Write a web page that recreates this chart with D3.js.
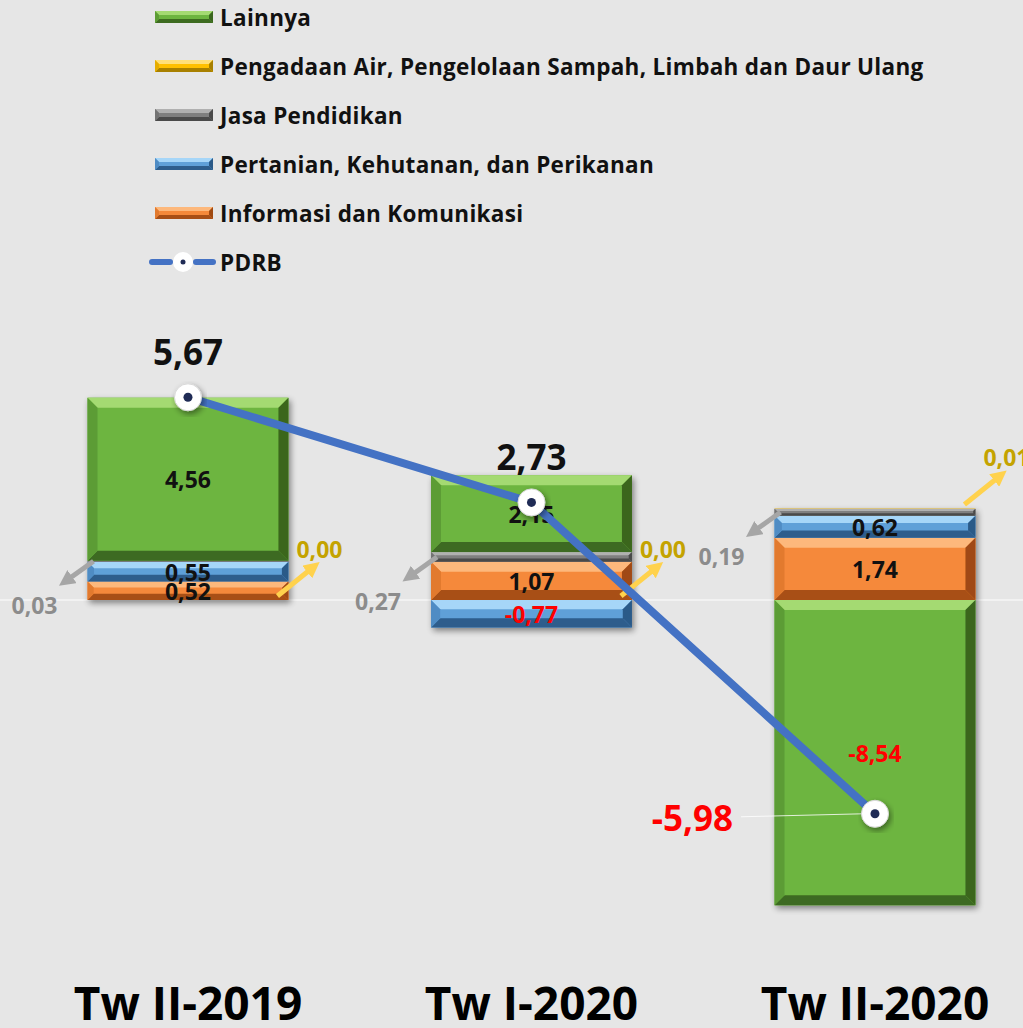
<!DOCTYPE html>
<html><head><meta charset="utf-8">
<script src="https://cdn.jsdelivr.net/npm/d3@7"></script>
<style>
html,body{margin:0;padding:0;background:#e6e6e6;}
svg{display:block;font-family:"Open Sans",sans-serif;}
</style></head>
<body>
<svg id="chart" width="1023" height="1028"></svg>
<script>
const categories = ["Tw II-2019", "Tw I-2020", "Tw II-2020"];
const informasi = [0.52, 1.07, 1.74];
const pertanian = [0.55, -0.77, 0.62];
const jasa = [0.03, 0.27, 0.19];
const pengadaan = [0.00, 0.00, 0.01];
const lainnya = [4.56, 2.15, -8.54];
const pdrb = [5.67, 2.73, -5.98];
const seriesNames = ["Informasi dan Komunikasi", "Pertanian, Kehutanan, dan Perikanan", "Jasa Pendidikan", "Pengadaan Air, Pengelolaan Sampah, Limbah dan Daur Ulang", "Lainnya"];
const legendOrder = ["Lainnya", "Pengadaan Air, Pengelolaan Sampah, Limbah dan Daur Ulang", "Jasa Pendidikan", "Pertanian, Kehutanan, dan Perikanan", "Informasi dan Komunikasi", "PDRB"];

const fmt = v => d3.format(".2f")(v).replace(".", ",").replace("\u2212", "-");

const palette = {
  "Informasi dan Komunikasi": {mid:"#f5893a", top:"#fdb87c", bot:"#a84f16", left:"#e27a2e", right:"#a04a12"},
  "Pertanian, Kehutanan, dan Perikanan": {mid:"#5fa0d8", top:"#a6d6f8", bot:"#2d5d8c", left:"#4f8cc4", right:"#2b5a88"},
  "Jasa Pendidikan": {mid:"#7f7f7f", top:"#b0b0b0", bot:"#4a4a4a", left:"#737373", right:"#4a4a4a"},
  "Pengadaan Air, Pengelolaan Sampah, Limbah dan Daur Ulang": {mid:"#ffc000", top:"#ffe07a", bot:"#a88000", left:"#e6ad00", right:"#a88000"},
  "Lainnya": {mid:"#6db540", top:"#a4da72", bot:"#3d6b20", left:"#5c9c34", right:"#3a661e"}
};

const table = categories.map((c, i) => ({
  cat: c,
  "Informasi dan Komunikasi": informasi[i],
  "Pertanian, Kehutanan, dan Perikanan": pertanian[i],
  "Jasa Pendidikan": jasa[i],
  "Pengadaan Air, Pengelolaan Sampah, Limbah dan Daur Ulang": pengadaan[i],
  "Lainnya": lainnya[i]
}));

const svg = d3.select("#chart");
const defs = svg.append("defs");
const sh = defs.append("filter").attr("id","shadow").attr("x","-20%").attr("y","-20%").attr("width","140%").attr("height","140%");
sh.append("feGaussianBlur").attr("in","SourceAlpha").attr("stdDeviation",3);
sh.append("feOffset").attr("dx",2).attr("dy",3).attr("result","ob");
sh.append("feComponentTransfer").append("feFuncA").attr("type","linear").attr("slope",0.45);
const fm = sh.append("feMerge"); fm.append("feMergeNode"); fm.append("feMergeNode").attr("in","SourceGraphic");

const x = d3.scaleBand().domain(categories).range([-84.25, 1147.2]).paddingInner(0.415).paddingOuter(0.5);
const y = d3.scaleLinear().domain([-10, 8]).range([957.5, 314]);

const stack = d3.stack().keys(seriesNames).offset(d3.stackOffsetDiverging);
const stacked = stack(table);

function bevel(g, x0, y0, w, h, c, bmax) {
  const b = Math.max(0, Math.min(bmax, h / 3, w / 3));
  g.append("rect").attr("x", x0).attr("y", y0).attr("width", w).attr("height", h).attr("fill", c.mid);
  if (b <= 0.3) return;
  const P = pts => pts.map(p => p.join(",")).join(" ");
  g.append("polygon").attr("points", P([[x0,y0],[x0+w,y0],[x0+w-b,y0+b],[x0+b,y0+b]])).attr("fill", c.top);
  g.append("polygon").attr("points", P([[x0,y0+h],[x0+w,y0+h],[x0+w-b,y0+h-b],[x0+b,y0+h-b]])).attr("fill", c.bot);
  g.append("polygon").attr("points", P([[x0,y0],[x0+b,y0+b],[x0+b,y0+h-b],[x0,y0+h]])).attr("fill", c.left);
  g.append("polygon").attr("points", P([[x0+w,y0],[x0+w-b,y0+b],[x0+w-b,y0+h-b],[x0+w,y0+h]])).attr("fill", c.right);
}

// zero line
svg.append("line").attr("x1", 0).attr("x2", 1023).attr("y1", y(0)).attr("y2", y(0))
  .attr("stroke", "#ffffff").attr("stroke-width", 1.2).attr("opacity", 0.9);

// bars
const barsG = svg.append("g");
categories.forEach((cat, i) => {
  const g = barsG.append("g").attr("filter", "url(#shadow)");
  stacked.forEach(s => {
    const d = s[i];
    const y0 = y(Math.max(d[0], d[1])), y1 = y(Math.min(d[0], d[1]));
    const h = y1 - y0;
    if (h <= 0) return;
    bevel(g, x(cat), y0, x.bandwidth(), h, palette[s.key], 10);
  });
});

// segment labels inside
const inside = ["Informasi dan Komunikasi", "Pertanian, Kehutanan, dan Perikanan", "Lainnya"];
stacked.filter(s => inside.includes(s.key)).forEach(s => {
  categories.forEach((cat, i) => {
    const d = s[i];
    const v = table[i][s.key];
    svg.append("text").attr("x", x(cat) + x.bandwidth() / 2).attr("y", y((d[0] + d[1]) / 2))
      .attr("text-anchor", "middle").attr("dominant-baseline", "central")
      .attr("font-size", 23).attr("font-weight", 700)
      .attr("fill", v < 0 ? "#ff0000" : "#111111").text(fmt(v));
  });
});

// arrows for small series
function arrowHead(id, color) {
  defs.append("marker").attr("id", id).attr("viewBox", "0 0 10 10").attr("refX", 5).attr("refY", 5)
    .attr("markerWidth", 3.2).attr("markerHeight", 3.2).attr("orient", "auto")
    .append("path").attr("d", "M0,0 L10,5 L0,10 Z").attr("fill", color);
}
arrowHead("ahGray", "#a6a6a6");
arrowHead("ahYel", "#ffd24d");
const sJasa = stacked.find(s => s.key === "Jasa Pendidikan");
const sPeng = stacked.find(s => s.key === "Pengadaan Air, Pengelolaan Sampah, Limbah dan Daur Ulang");
categories.forEach((cat, i) => {
  const xl = x(cat), xr = x(cat) + x.bandwidth();
  const jy = y((sJasa[i][0] + sJasa[i][1]) / 2);
  svg.append("line").attr("x1", xl + 6).attr("y1", jy).attr("x2", xl - 22).attr("y2", jy + 20)
    .attr("stroke", "#a6a6a6").attr("stroke-width", 5).attr("marker-end", "url(#ahGray)");
  svg.append("text").attr("x", xl - 53).attr("y", jy + 44).attr("text-anchor", "middle").attr("dominant-baseline", "central")
    .attr("font-size", 23).attr("font-weight", 700).attr("fill", "#8c8c8c").text(fmt(jasa[i]));
  const py = y(sPeng[i][1]) - 4;
  svg.append("line").attr("x1", xr - 11).attr("y1", py).attr("x2", xr + 25).attr("y2", py - 29)
    .attr("stroke", "#ffd24d").attr("stroke-width", 5).attr("marker-end", "url(#ahYel)");
  svg.append("text").attr("x", xr + 8).attr("y", py - 47).attr("text-anchor", "start").attr("dominant-baseline", "central")
    .attr("font-size", 23).attr("font-weight", 700).attr("fill", "#c4a300").text(fmt(pengadaan[i]));
});

// PDRB line
const cx = c => x(c) + x.bandwidth() / 2;
const line = d3.line().x((d, i) => cx(categories[i])).y(d => y(d));
svg.append("path").datum(pdrb).attr("d", line).attr("fill", "none")
  .attr("stroke", "#4472c4").attr("stroke-width", 8).attr("stroke-linejoin", "round");

// leader for negative total
svg.append("line").attr("x1", cx(categories[2]) - 134).attr("y1", y(pdrb[2]) + 3)
  .attr("x2", cx(categories[2]) - 12).attr("y2", y(pdrb[2]))
  .attr("stroke", "#ffffff").attr("stroke-width", 1).attr("opacity", 0.8);

const mk = svg.append("g");
pdrb.forEach((v, i) => {
  const g = mk.append("g").attr("transform", `translate(${cx(categories[i])},${y(v)})`);
  g.append("circle").attr("r", 13.5).attr("fill", "#ffffff").attr("stroke", "#d8d8d8").attr("stroke-width", 1).attr("filter", "url(#shadow)");
  g.append("circle").attr("r", 4.5).attr("fill", "#1f2b55");
});

// PDRB labels
pdrb.forEach((v, i) => {
  const t = svg.append("text").attr("font-size", 35).attr("font-weight", 700).attr("dominant-baseline", "central")
    .attr("fill", v < 0 ? "#ff0000" : "#111111").text(fmt(v));
  if (v >= 0) t.attr("x", cx(categories[i])).attr("y", y(v) - 46).attr("text-anchor", "middle");
  else t.attr("x", cx(categories[i]) - 142).attr("y", y(v) + 4).attr("text-anchor", "end");
});

// category labels
categories.forEach(cat => {
  svg.append("text").attr("x", cx(cat)).attr("y", 1020).attr("text-anchor", "middle")
    .attr("font-size", 46).attr("font-weight", 700).attr("fill", "#000000").text(cat);
});

// legend
const lg = svg.append("g");
legendOrder.forEach((name, k) => {
  const ly = 17 + k * 49;
  const g = lg.append("g");
  if (name === "PDRB") {
    g.append("line").attr("x1", 152).attr("x2", 170).attr("y1", ly).attr("y2", ly).attr("stroke", "#4472c4").attr("stroke-width", 6).attr("stroke-linecap", "round");
    g.append("line").attr("x1", 196).attr("x2", 213).attr("y1", ly).attr("y2", ly).attr("stroke", "#4472c4").attr("stroke-width", 6).attr("stroke-linecap", "round");
    g.append("circle").attr("cx", 183).attr("cy", ly).attr("r", 10).attr("fill", "#ffffff");
    g.append("circle").attr("cx", 183).attr("cy", ly).attr("r", 2.5).attr("fill", "#1f2b55");
  } else {
    bevel(g, 155, ly - 6, 58, 12, palette[name], 4);
  }
  g.append("text").attr("x", 220).attr("y", ly).attr("dominant-baseline", "central")
    .attr("font-size", 22.5).attr("font-weight", 700).attr("letter-spacing", 0.3).attr("fill", "#111111").text(name);
});
</script>
</body></html>
